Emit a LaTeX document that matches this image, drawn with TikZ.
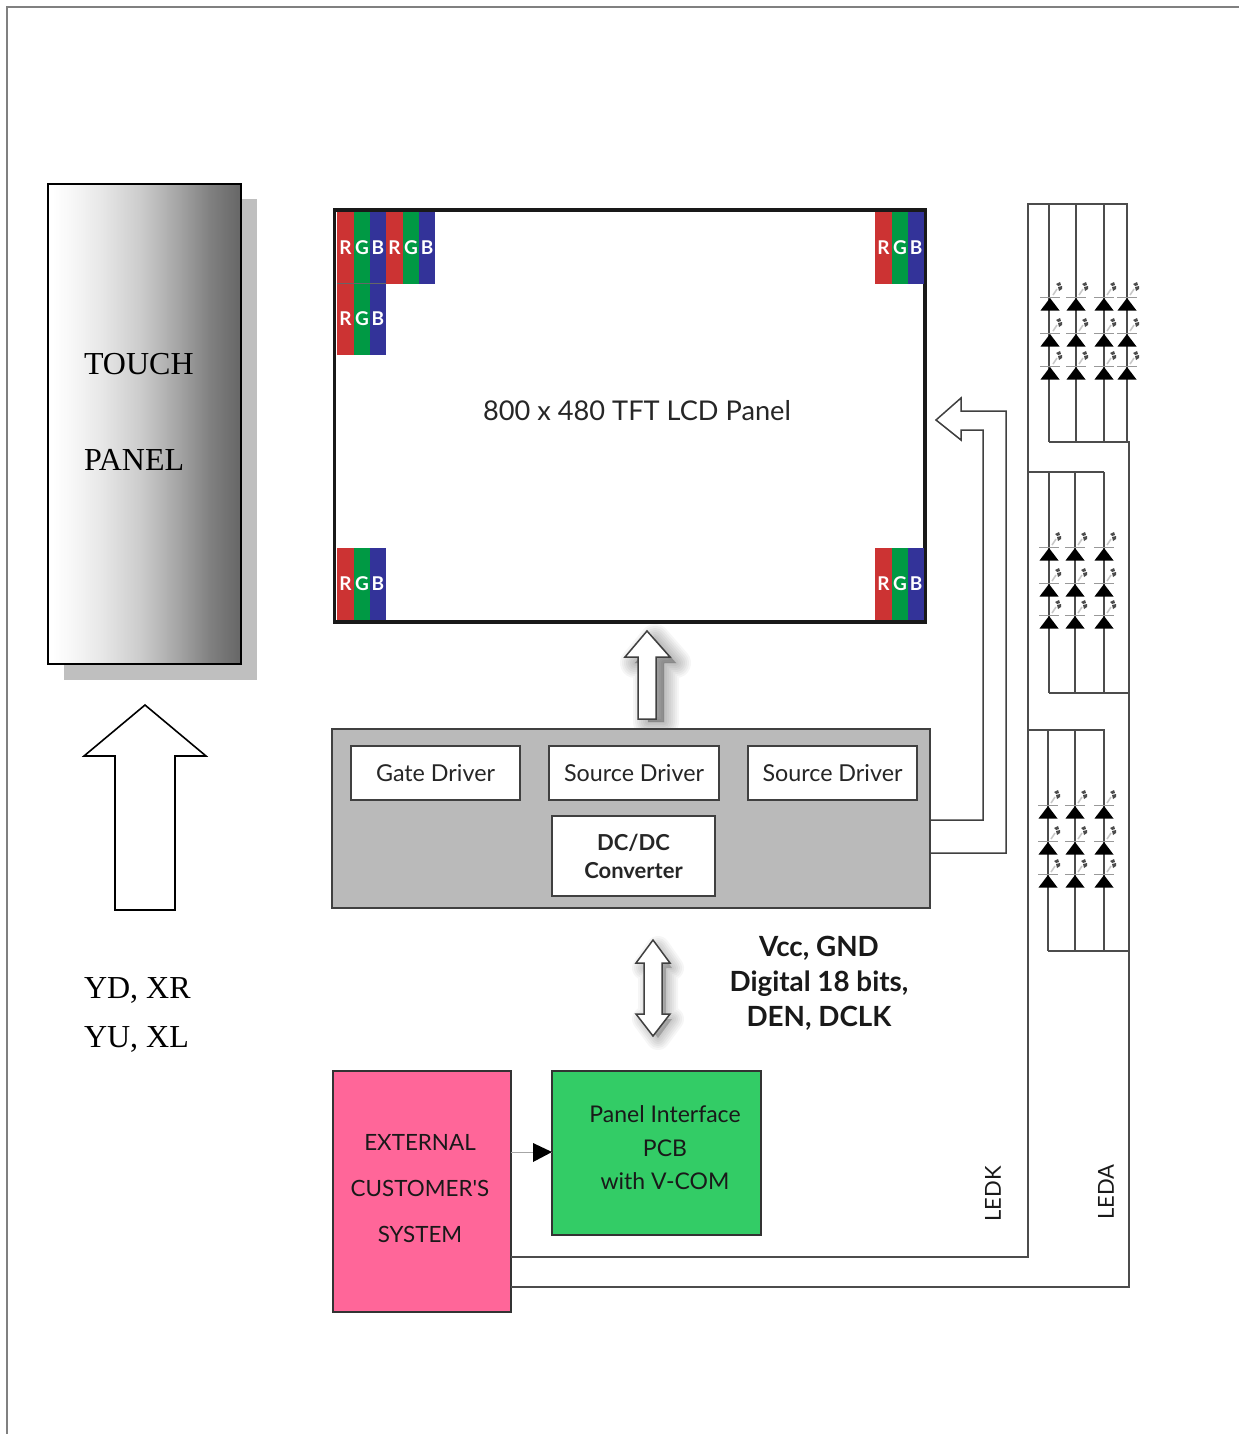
\documentclass[tikz,border=0pt]{standalone}
\usepackage{fontspec}
\setmainfont{Liberation Serif}
\newfontfamily\panelfont{Lato}
\usetikzlibrary{calc}
\definecolor{rgbR}{HTML}{CC3333}
\definecolor{rgbG}{HTML}{009944}
\definecolor{rgbB}{HTML}{333399}
% the path covers 25bp..75bp of the shading
\definecolor{gA}{HTML}{F8F8F8}
\definecolor{gB}{HTML}{E8E8E8}
\definecolor{gC}{HTML}{CCCCCC}
\definecolor{gD}{HTML}{A8A8A8}
\definecolor{gE}{HTML}{808080}
\definecolor{gF}{HTML}{666666}
\pgfdeclarehorizontalshading{touchshade}{100bp}{color(0bp)=(white);color(26bp)=(white);color(30.7bp)=(gA);color(38.5bp)=(gB);color(48.8bp)=(gC);color(58bp)=(gD);color(67bp)=(gE);color(75bp)=(gF);color(100bp)=(gF)}
\tikzset{
  x=1pt,y=-1pt,
  every node/.style={outer sep=0pt},
  frameline/.style={draw=black!50,line width=1.2pt},
  whitebox/.style={draw=black!75,fill=white,line width=1.5pt,inner sep=0pt,font=\panelfont\fontsize{23.3}{24}\selectfont,text=black!85,align=center},
  serif/.style={inner sep=0pt,font=\rmfamily\fontsize{32}{32}\selectfont,anchor=west,text=black},
  lab/.style={inner sep=0pt,text=black!90,align=center},
  blockarrow/.style={draw=black!75,fill=white,line width=1.5pt,line join=miter},
  softshadow/.style={black,opacity=.035,line join=round},
  wire/.style={draw=black!75,line width=1.5pt},
  ledwire/.style={draw=black!70,line width=1.6pt},
  rgbletter/.style={inner sep=0pt,text=white,font=\panelfont\bfseries\fontsize{19}{19}\selectfont},
  pics/rgb/.style={code={
    \fill[rgbR] (0,0) rectangle (16.5,71.5);
    \fill[rgbG] (16.5,0) rectangle (33,71.5);
    \fill[rgbB] (33,0) rectangle (49,71.5);
    \node[rgbletter] at (8.5,35.5) {R};
    \node[rgbletter] at (25,35.5) {G};
    \node[rgbletter] at (41,35.5) {B};
  }},
  pics/led/.style={code={
    \fill[black] (0,0) -- (9.5,12.5) -- (-9.5,12.5) -- cycle;
    \draw[black!40,line width=1.2pt] (-10,-.5) -- (10,-.5);
    \draw[black!22,line width=1.5pt] (3,-3) -- (7,-9);
    \fill[black!70] (6,-14) -- (10,-16) -- (11,-13) -- (8,-12) -- cycle;
    \fill[black!70] (8,-11) -- (12,-12) -- (12,-9) -- (9,-7) -- cycle;
  }},
}
\begin{document}
\begin{tikzpicture}
\useasboundingbox (0,0) rectangle (1239,1434);
\fill[white] (0,0) rectangle (1239,1434);
\coordinate (fa) at (7,1434); \coordinate (fb) at (7,7); \coordinate (fc) at (1239,7);
\draw[frameline] (fa) -- (fb) -- (fc);

% touch panel
\fill[black!25] (64,199) rectangle (257,680);
\node[draw=black,line width=1.6pt,minimum width=193pt,minimum height=480pt,inner sep=0pt,shading=touchshade,anchor=north west] (touch) at (48,184) {};
\node[serif] (t1) at (84,364) {TOUCH};
\node[serif] (t2) at (84,460) {PANEL};
\draw[blockarrow,draw=black,line width=1.6pt] (145,705) -- (206,756) -- (175,756) -- (175,910) -- (115,910) -- (115,756) -- (84,756) -- cycle;
\node[serif] (yd) at (84,990.5) {YD, XR};
\node[serif] (yu) at (84,1039) {YU, XL};

% LCD panel
\node[draw=black!90,line width=3.8pt,fill=white,minimum width=590.5pt,minimum height=412pt,inner sep=0pt,anchor=north west] (lcd) at (334.5,210) {};
\node[inner sep=0pt,font=\panelfont\fontsize{27.2}{28}\selectfont,text=black!85] (lcdt) at (637,411) {800 x 480 TFT LCD Panel};
\pic at (337,212) {rgb};
\pic at (386,212) {rgb};
\pic at (337,283.5) {rgb};
\draw[black!60,line width=.8pt] (337,283.5) -- (386,283.5);
\pic at (875,212) {rgb};
\pic at (337,548) {rgb};
\pic at (875,548) {rgb};

% up arrow with soft shadow
\foreach \w in {30,26,22,18,14,10,6,2}{
  \filldraw[softshadow,line width=\w pt] (655,639) -- (676,663) -- (664,663) -- (664,722) -- (648,722) -- (648,663) -- (635,663) -- cycle;
}
\draw[blockarrow] (647,631) -- (670,657) -- (656,657) -- (656,719) -- (638,719) -- (638,657) -- (625,657) -- cycle;

% driver block
\node[draw=black!75,fill=black!27,line width=2pt,minimum width=598pt,minimum height=179pt,inner sep=0pt,anchor=north west] (drv) at (332,729) {};
\node[whitebox,minimum width=169pt,minimum height=54pt,anchor=north west] (gate) at (351,746) {\raisebox{-1pt}{Gate Driver}};
\node[whitebox,minimum width=170pt,minimum height=54pt,anchor=north west] (src1) at (549,746) {\raisebox{-1pt}{Source Driver}};
\node[whitebox,minimum width=169pt,minimum height=54pt,anchor=north west] (src2) at (748,746) {\raisebox{-1pt}{Source Driver}};
\node[whitebox,minimum width=163pt,minimum height=80pt,anchor=north west,font=\panelfont\bfseries\fontsize{22}{29}\selectfont] (dcdc) at (552,816) {\raisebox{-1pt}{DC/DC}\\Converter};

% L-shaped arrow from drivers to panel
\coordinate (la) at (drv.east |- 0,853);
\coordinate (lb) at (drv.east |- 0,820);
\draw[wire,line join=miter] (la) -- (1006,853) -- (1006,411) -- (961,411) -- (961,398) -- (936,420) -- (961,440) -- (961,430) -- (983,430) -- (983,820) -- (lb);

% double arrow
\foreach \w in {24,20,16,12,8,4}{
  \filldraw[softshadow,line width=\w pt] (658,948) -- (672,968) -- (666,968) -- (666,1019) -- (672,1019) -- (658,1038) -- (644,1019) -- (650,1019) -- (650,968) -- (644,968) -- cycle;
}
\draw[blockarrow] (653,940) -- (670,963) -- (662,963) -- (662,1014) -- (670,1014) -- (653,1036) -- (636,1014) -- (644,1014) -- (644,963) -- (636,963) -- cycle;
\node[lab,font=\panelfont\bfseries\fontsize{27.8}{35}\selectfont] (vcc) at (819,983) {Vcc, GND\\Digital 18 bits,\\DEN, DCLK};

% bottom blocks
\node[draw=black!80,line width=2.4pt,fill={rgb,255:red,255;green,102;blue,153},minimum width=178pt,minimum height=241pt,inner sep=0pt,anchor=north west] (ext) at (333,1071) {};
\node[lab,font=\panelfont\fontsize{22.4}{46}\selectfont] (extt) at (420,1189) {EXTERNAL\\CUSTOMER'S\\SYSTEM};
\node[draw=black!80,line width=2.4pt,fill={rgb,255:red,51;green,204;blue,102},minimum width=209pt,minimum height=164pt,inner sep=0pt,anchor=north west] (pcb) at (552,1071) {};
\node[lab,font=\panelfont\fontsize{23}{33.5}\selectfont] (pcbt) at (665,1148) {Panel Interface\\PCB\\with V-COM};
\coordinate (arrs) at (ext.east |- 0,1152);
\coordinate (arre) at (pcb.west |- 0,1152);
\draw[draw=black!35,line width=1pt] (arrs) -- (arre);
\fill[black] (533,1143) -- (arre) -- (533,1162) -- cycle;

% LED strings
\coordinate (kend) at (ext.east |- 0,1257);
\coordinate (aend) at (ext.east |- 0,1287);
\draw[ledwire] (kend) -- (1028,1257) -- (1028,204) -- (1127,204) -- (1127,442);
\draw[ledwire] (aend) -- (1129,1287) -- (1129,442) -- (1049,442);
\foreach \x in {1049,1076,1104}{\draw[ledwire] (\x,204) -- (\x,442);}
\foreach \y in {298,334,367}{
  \foreach \x in {1050,1076,1104,1127}{\pic at (\x,\y) {led};}
}
\draw[ledwire] (1028,472) -- (1104,472);
\foreach \x in {1049,1075,1104}{\draw[ledwire] (\x,472) -- (\x,693);}
\draw[ledwire] (1049,693) -- (1129,693);
\foreach \y in {548,584,616}{
  \foreach \x in {1049,1075,1104}{\pic at (\x,\y) {led};}
}
\draw[ledwire] (1028,730) -- (1105,730);
\foreach \x in {1048,1075,1104}{\draw[ledwire] (\x,730) -- (\x,951);}
\draw[ledwire] (1048,951) -- (1129,951);
\foreach \y in {806,842,875}{
  \foreach \x in {1048,1075,1104}{\pic at (\x,\y) {led};}
}
\node[inner sep=0pt,rotate=90,font=\panelfont\fontsize{22}{22}\selectfont,text=black!90] (ledk) at (993,1194) {LEDK};
\node[inner sep=0pt,rotate=90,font=\panelfont\fontsize{22}{22}\selectfont,text=black!90] (leda) at (1106,1192) {LEDA};
\end{tikzpicture}
\end{document}
